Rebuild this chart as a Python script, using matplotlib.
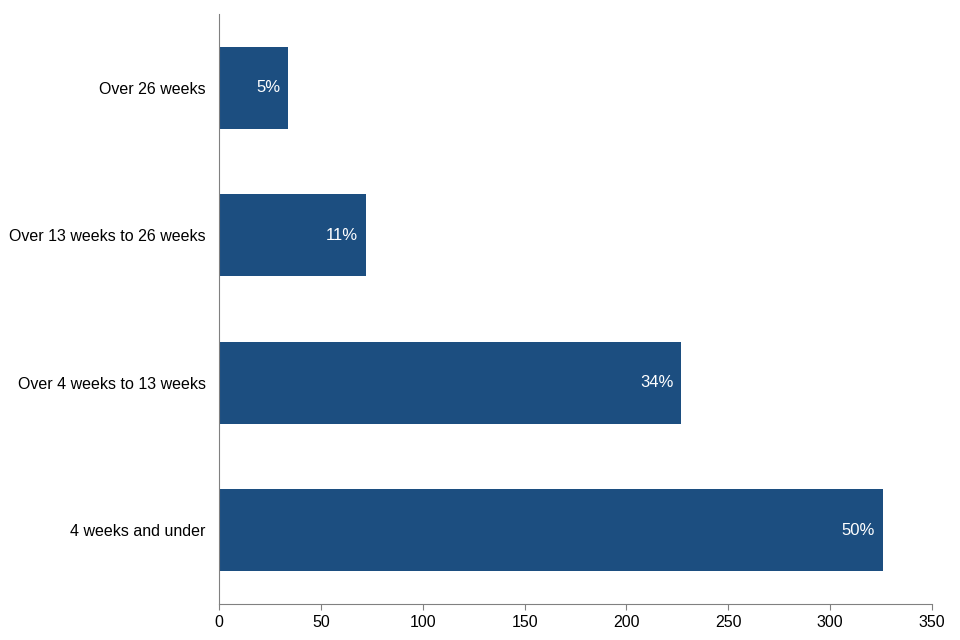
import matplotlib.pyplot as plt

# Duration categories (bottom to top) and counts
categories = ['4 weeks and under', 'Over 4 weeks to 13 weeks',
              'Over 13 weeks to 26 weeks', 'Over 26 weeks']
counts = [326, 227, 72, 34]
pct_labels = ['50%', '34%', '11%', '5%']
x_ticks = [0, 50, 100, 150, 200, 250, 300, 350]

plt.rcParams['font.family'] = ['Liberation Sans', 'DejaVu Sans']

fig = plt.figure(figsize=(9.6, 6.4), dpi=100)
ax = fig.add_axes([0.228, 0.056, 0.743, 0.922])

bars = ax.barh(range(len(categories)), counts, height=0.555, color='#1c4e80')

# white percentage labels just inside the end of each bar
for bar, lab in zip(bars, pct_labels):
    ax.text(bar.get_width() - 4, bar.get_y() + bar.get_height() / 2, lab,
            ha='right', va='center', color='white', fontsize=12)

ax.set_xlim(0, 350)
ax.set_ylim(-0.5, 3.5)
ax.set_xticks(x_ticks)
ax.set_yticks(range(len(categories)))
ax.set_yticklabels(categories)

for side in ['top', 'right']:
    ax.spines[side].set_visible(False)
for side in ['left', 'bottom']:
    ax.spines[side].set_color('#808080')
    ax.spines[side].set_linewidth(0.8)

ax.tick_params(axis='x', length=4, color='#808080', labelsize=11.5, pad=4)
ax.tick_params(axis='y', length=0, labelsize=11.5, pad=9.5)

fig.savefig('out.png', dpi=100)
